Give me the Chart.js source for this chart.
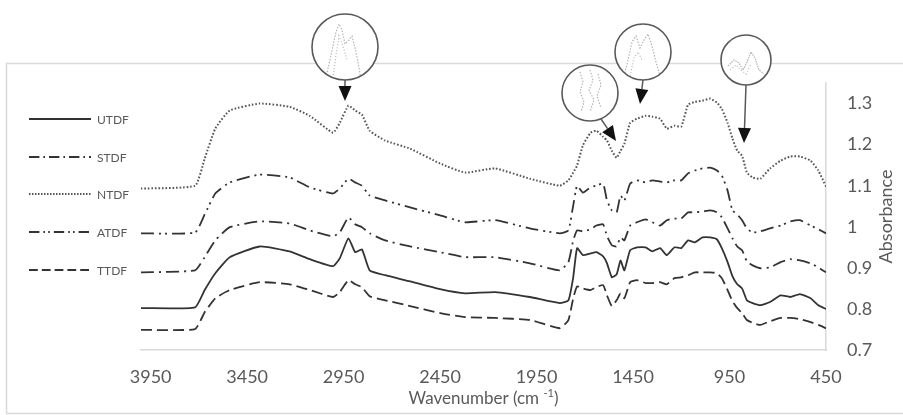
<!DOCTYPE html>
<html>
<head>
<meta charset="utf-8">
<script src="https://cdn.jsdelivr.net/npm/chart.js@4.4.1/dist/chart.umd.min.js"></script>
<style>
  html,body{margin:0;padding:0;background:#fff;}
  canvas{display:block;}
</style>
</head>
<body>
<canvas id="ftir" width="903" height="415"></canvas>
<script>
// Wavenumber grid (cm-1), shared by every spectrum
const wavenumbers = [4000,3720,3670,3615,3540,3385,3230,3125,3005,2970,
  2925,2890,2855,2815,2735,2605,2450,2320,2165,1985,
  1830,1785,1760,1740,1710,1670,1640,1605,1585,1560,
  1535,1515,1495,1465,1430,1385,1350,1310,1275,1235,
  1200,1165,1130,1090,1050,1015,990,960,935,910,
  885,860,830,790,740,685,635,585,530,490,450];

const xTicks = [3950,3450,2950,2450,1950,1450,950,450];
const yTicks = [0.7,0.8,0.9,1.0,1.1,1.2,1.3];

const seriesNames = ['UTDF','STDF','NTDF','ATDF','TTDF'];

// Absorbance values
const utdf = [0.802,0.804,0.846,0.887,0.926,0.952,0.940,0.921,0.904,0.923,
  0.972,0.938,0.945,0.894,0.882,0.867,0.848,0.838,0.841,0.829,
  0.814,0.821,0.877,0.948,0.931,0.935,0.938,0.928,0.911,0.877,
  0.884,0.918,0.894,0.943,0.950,0.950,0.940,0.948,0.931,0.950,
  0.948,0.967,0.962,0.974,0.974,0.969,0.948,0.914,0.880,0.860,
  0.850,0.821,0.814,0.809,0.817,0.833,0.829,0.836,0.826,0.809,0.800];

const stdf = [0.889,0.894,0.926,0.967,0.999,1.013,1.008,0.991,0.977,0.986,
  1.023,1.006,0.999,0.984,0.967,0.952,0.938,0.926,0.926,0.911,
  0.894,0.914,0.967,0.991,0.989,0.994,1.003,1.006,0.977,0.955,
  0.952,0.974,0.967,1.003,1.011,1.018,1.011,1.003,1.016,1.020,
  1.020,1.035,1.035,1.037,1.040,1.035,1.023,0.996,0.972,0.952,
  0.943,0.916,0.906,0.899,0.901,0.914,0.921,0.918,0.911,0.901,0.889];

const ntdf = [1.093,1.100,1.166,1.239,1.283,1.300,1.292,1.270,1.229,1.253,
  1.295,1.283,1.273,1.234,1.210,1.190,1.154,1.132,1.142,1.117,
  1.100,1.113,1.132,1.149,1.198,1.229,1.234,1.219,1.210,1.185,
  1.168,1.185,1.202,1.253,1.263,1.270,1.268,1.263,1.239,1.246,
  1.244,1.297,1.304,1.307,1.312,1.302,1.287,1.253,1.215,1.185,
  1.173,1.132,1.120,1.117,1.142,1.161,1.171,1.171,1.161,1.137,1.098];

const atdf = [0.984,0.986,1.030,1.081,1.108,1.127,1.120,1.096,1.081,1.093,
  1.117,1.108,1.100,1.076,1.064,1.047,1.028,1.011,1.016,0.996,
  0.984,0.991,1.052,1.100,1.083,1.096,1.100,1.105,1.064,1.040,
  1.035,1.076,1.064,1.105,1.113,1.108,1.113,1.110,1.108,1.113,
  1.113,1.130,1.137,1.142,1.144,1.137,1.125,1.088,1.040,1.030,
  1.016,0.996,0.986,0.989,0.996,1.003,1.013,1.016,1.003,0.994,0.984];

const ttdf = [0.749,0.751,0.792,0.826,0.846,0.865,0.860,0.846,0.829,0.841,
  0.870,0.860,0.853,0.831,0.821,0.807,0.790,0.780,0.778,0.773,
  0.753,0.773,0.826,0.855,0.850,0.846,0.853,0.858,0.833,0.807,
  0.821,0.838,0.826,0.865,0.870,0.863,0.863,0.865,0.860,0.875,
  0.877,0.882,0.889,0.889,0.889,0.887,0.875,0.846,0.819,0.802,
  0.790,0.773,0.766,0.761,0.770,0.778,0.778,0.775,0.768,0.761,0.753];

const seriesValues = [utdf, stdf, ntdf, atdf, ttdf];

// line looks (kept apart from the data)
const lineDash = [[], [13,5,2,5], [1.6,1.9], [13,5,2,4,2,5], [11,5]];
const lineColor = ['#333333','#333333','#555555','#333333','#333333'];

const FONT = 'Lato, "Open Sans", sans-serif';
const GREY = '#595959';

const datasets = seriesNames.map((name, i) => ({
  label: name,
  data: wavenumbers.map((w, j) => ({x: w, y: seriesValues[i][j]})),
  borderColor: lineColor[i],
  borderWidth: i === 2 ? 2 : 1.8,
  borderDash: lineDash[i],
  pointRadius: 0,
  tension: 0.15,
  fill: false
}));

function arrow(ctx, x1, y1, x2, y2){
  const ang = Math.atan2(y2 - y1, x2 - x1);
  const hl = 15, hw = 6.5;
  const bx = x2 - hl * Math.cos(ang), by = y2 - hl * Math.sin(ang);
  ctx.strokeStyle = GREY; ctx.lineWidth = 1.5; ctx.setLineDash([]);
  ctx.beginPath(); ctx.moveTo(x1, y1); ctx.lineTo(bx, by); ctx.stroke();
  ctx.fillStyle = '#111';
  ctx.beginPath();
  ctx.moveTo(x2, y2);
  ctx.lineTo(bx + hw * Math.sin(ang), by - hw * Math.cos(ang));
  ctx.lineTo(bx - hw * Math.sin(ang), by + hw * Math.cos(ang));
  ctx.closePath(); ctx.fill();
}

function sketch(ctx, pts, dash){
  ctx.strokeStyle = '#b5b5b5'; ctx.lineWidth = 1.2; ctx.setLineDash(dash || [1.5,1.5]);
  ctx.beginPath();
  pts.forEach((p, k) => k ? ctx.lineTo(p[0], p[1]) : ctx.moveTo(p[0], p[1]));
  ctx.stroke();
}

function loupe(ctx, cx, cy, r, drawInside){
  ctx.save();
  ctx.fillStyle = '#fff'; ctx.setLineDash([]);
  ctx.beginPath(); ctx.arc(cx, cy, r, 0, Math.PI * 2); ctx.fill();
  ctx.save(); ctx.clip(); drawInside(ctx); ctx.restore();
  ctx.strokeStyle = GREY; ctx.lineWidth = 1.6; ctx.setLineDash([]);
  ctx.beginPath(); ctx.arc(cx, cy, r, 0, Math.PI * 2); ctx.stroke();
  ctx.restore();
}

const decor = {
  id: 'decor',
  beforeDraw(chart){
    const ctx = chart.ctx;
    ctx.save();
    ctx.strokeStyle = '#d9d9d9'; ctx.lineWidth = 1.5;
    ctx.strokeRect(6.5, 63.5, 930, 350);
    ctx.restore();
  },
  afterDraw(chart){
    const ctx = chart.ctx;
    const area = chart.chartArea;
    ctx.save();

    // legend
    ctx.font = '12px ' + FONT;
    ctx.textBaseline = 'middle';
    const legendY = [119, 157, 194, 232, 270];
    seriesNames.forEach((name, i) => {
      ctx.strokeStyle = lineColor[i]; ctx.lineWidth = 2;
      ctx.setLineDash(i === 2 ? [1.5,1.5] : lineDash[i].map(d => d * 0.8));
      ctx.beginPath(); ctx.moveTo(29, legendY[i]); ctx.lineTo(91, legendY[i]); ctx.stroke();
      ctx.setLineDash([]);
      ctx.fillStyle = GREY; ctx.textAlign = 'left';
      ctx.fillText(name, 97, legendY[i] + 1);
    });

    // x title with superscript
    const midX = (area.left + area.right) / 2;
    ctx.fillStyle = GREY;
    const main = 'Wavenumber (cm ', sup = '-1', tail = ')';
    ctx.font = '17px ' + FONT;
    const wMain = ctx.measureText(main).width, wTail = ctx.measureText(tail).width;
    ctx.font = '11px ' + FONT;
    const wSup = ctx.measureText(sup).width;
    let tx = midX - (wMain + wSup + wTail) / 2;
    ctx.textAlign = 'left';
    ctx.font = '17px ' + FONT; ctx.fillText(main, tx, 399);
    ctx.font = '11px ' + FONT; ctx.fillText(sup, tx + wMain, 393);
    ctx.font = '17px ' + FONT; ctx.fillText(tail, tx + wMain + wSup, 399);

    // y title, reading upward
    ctx.save();
    ctx.translate(886, (area.top + area.bottom) / 2);
    ctx.rotate(-Math.PI / 2);
    ctx.textAlign = 'center';
    ctx.font = '18px ' + FONT;
    ctx.fillText('Absorbance', 0, 0);
    ctx.restore();

    // magnified insets with arrows
    arrow(ctx, 345, 80, 345, 101);
    loupe(ctx, 345, 47, 33, c => {
      sketch(c, [[326,78],[331,55],[336,32],[339,24],[342,30],[345,44],[349,40],[352,36],[355,48],[358,62],[361,80]]);
      sketch(c, [[333,78],[336,55],[339,36],[343,46],[347,60]], [1,2]);
    });
    arrow(ctx, 601, 119, 616, 141);
    loupe(ctx, 590, 93, 28, c => {
      sketch(c, [[580,72],[583,82],[580,92],[584,102],[581,112]]);
      sketch(c, [[590,70],[593,80],[589,90],[594,100],[590,112]]);
      sketch(c, [[598,74],[601,85],[597,96],[601,108]]);
    });
    arrow(ctx, 643, 80, 640, 104);
    loupe(ctx, 643, 52, 28, c => {
      sketch(c, [[624,76],[628,60],[632,42],[636,36],[640,48],[644,40],[648,34],[652,46],[656,62],[660,76]]);
      sketch(c, [[630,76],[634,58],[638,52],[642,60]], [1,2]);
    });
    arrow(ctx, 746, 85, 744, 143);
    loupe(ctx, 746, 60, 25, c => {
      sketch(c, [[728,66],[734,60],[739,63],[743,70],[747,62],[751,52],[755,58],[759,70],[764,74]], [1.5,1]);
      sketch(c, [[730,70],[736,65],[741,70],[746,74],[751,64]], [1,2]);
    });

    ctx.restore();
  }
};

new Chart(document.getElementById('ftir'), {
  type: 'line',
  data: { datasets },
  options: {
    responsive: false,
    animation: false,
    layout: { padding: { left: 141, top: 83, right: 0, bottom: 0 } },
    plugins: { legend: { display: false }, tooltip: { enabled: false } },
    scales: {
      x: {
        type: 'linear', reverse: true, min: 450, max: 4000,
        grid: { display: false, drawTicks: false },
        border: { display: true, color: '#d9d9d9', width: 1.5 },
        ticks: { padding: 16, color: GREY, font: { family: FONT, size: 18 }, maxRotation: 0, autoSkip: false,
          callback: v => String(v) },
        afterBuildTicks: s => { s.ticks = xTicks.map(v => ({ value: v })); },
        afterFit: s => { s.height = 65; }
      },
      y: {
        position: 'right', min: 0.7, max: 1.35,
        grid: { display: false, drawTicks: false },
        border: { display: true, color: '#d9d9d9', width: 1.5 },
        ticks: { padding: 21, color: GREY, font: { family: FONT, size: 18 },
          callback: v => String(Math.round(v * 10) / 10) },
        afterBuildTicks: s => { s.ticks = yTicks.map(v => ({ value: v })); },
        afterFit: s => { s.width = 77; }
      }
    }
  },
  plugins: [decor]
});
</script>
</body>
</html>
